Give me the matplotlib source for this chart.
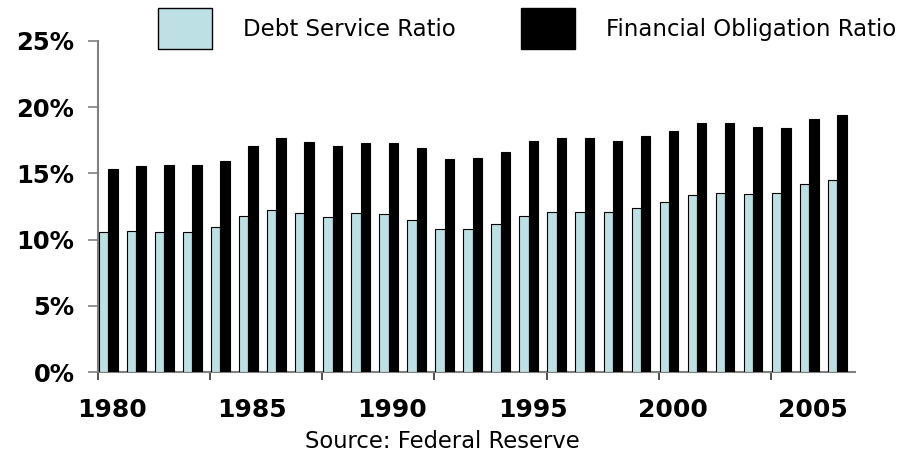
import matplotlib
matplotlib.use("Agg")
import matplotlib.pyplot as plt
import numpy as np
from matplotlib.patches import Patch

years = list(range(1980, 2007))
debt_service = [10.55, 10.63, 10.55, 10.55, 10.93, 11.78, 12.21, 11.98, 11.71, 11.98,
                11.91, 11.48, 10.78, 10.78, 11.15, 11.78, 12.06, 12.06, 12.06, 12.36,
                12.82, 13.35, 13.50, 13.44, 13.50, 14.22, 14.48]
financial_obligation = [15.33, 15.56, 15.61, 15.61, 15.94, 17.07, 17.65, 17.40, 17.07, 17.32,
                        17.32, 16.94, 16.09, 16.16, 16.62, 17.45, 17.65, 17.65, 17.45, 17.85,
                        18.23, 18.81, 18.81, 18.50, 18.40, 19.11, 19.39]
y_ticks = [0, 5, 10, 15, 20, 25]
y_tick_labels = ["0%", "5%", "10%", "15%", "20%", "25%"]
x_label_years = [1980, 1985, 1990, 1995, 2000, 2005]
series_names = ["Debt Service Ratio", "Financial Obligation Ratio"]
source_text = "Source: Federal Reserve"

plt.rcParams['font.family'] = ['DejaVu Sans']

W, H = 911, 455
fig = plt.figure(figsize=(W / 100, H / 100), dpi=100)
ax = fig.add_axes([98 / W, (H - 372) / H, (855 - 98) / W, (372 - 41) / H])

blue = "#bce0e3"
idx = np.arange(len(years))
bw = 0.335
ax.bar(idx + 0.03, debt_service, width=bw, align='edge', color=blue,
       edgecolor='black', linewidth=0.8, zorder=3)
ax.bar(idx + 0.03 + bw, financial_obligation, width=bw, align='edge', color='black',
       edgecolor='black', linewidth=0.8, zorder=3)

ax.set_xlim(0, len(years))
ax.set_ylim(0, 25)

for s in ['top', 'right']:
    ax.spines[s].set_visible(False)
for s in ['left', 'bottom']:
    ax.spines[s].set_color('#808080')
    ax.spines[s].set_linewidth(1.5)

ax.set_yticks(y_ticks)
ax.set_yticklabels(y_tick_labels, fontsize=17.5, fontweight='bold')
ax.tick_params(axis='y', direction='out', length=7, width=1.2, color='#808080', pad=10)

ax.set_xticks(np.arange(0, len(years), 4))
ax.set_xticklabels([])
ax.tick_params(axis='x', which='major', direction='out', length=6, width=1.2, color='#333333')
ax.set_xticks([years.index(y) + 0.5 for y in x_label_years], minor=True)
ax.set_xticklabels([str(y) for y in x_label_years], minor=True, fontsize=18, fontweight='bold')
ax.tick_params(axis='x', which='minor', length=0, pad=19)

fs_leg = 16.5
handles = [Patch(facecolor=blue, edgecolor='black', linewidth=1.0),
           Patch(facecolor='black', edgecolor='black')]
fig.legend(handles, series_names, loc='upper left', bbox_to_anchor=(158 / W, 1 - 8 / H),
           ncol=2, frameon=False, fontsize=fs_leg, borderpad=0, borderaxespad=0,
           handlelength=2.36, handleheight=2.37, handletextpad=1.35, columnspacing=2.84)

fig.text(442 / W, 1 - 441 / H, source_text, ha='center', va='center', fontsize=16.3)

fig.savefig("out.png", dpi=100)
